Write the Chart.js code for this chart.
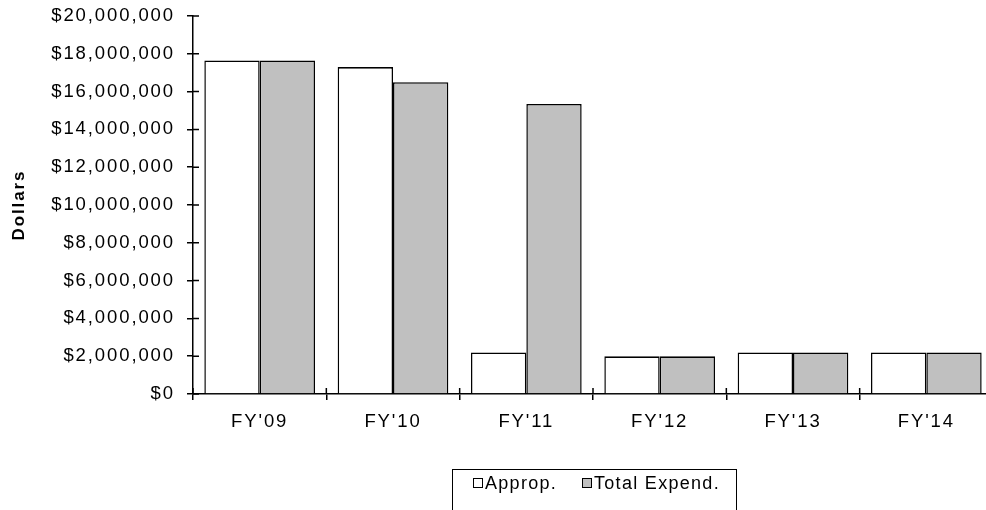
<!DOCTYPE html>
<html>
<head>
<meta charset="utf-8">
<script src="https://cdn.jsdelivr.net/npm/chart.js@4"></script>
<style>
  html, body { margin: 0; padding: 0; background: #fff; overflow: hidden; }
  #wrap { position: relative; width: 986px; height: 510px; overflow: hidden; }
  #fundChart { position: absolute; left: 0; top: 0; }
  #legend {
    position: absolute; left: 452px; top: 469px; width: 285px; height: 60px;
    border: 1px solid #000; box-sizing: border-box;
    font-family: "Liberation Sans", Arial, sans-serif; font-size: 18px;
    letter-spacing: 1.3px; color: #000;
  }
  #legend .item { position: absolute; top: 1px; white-space: nowrap; line-height: 24px; }
  #legend .sw {
    display: inline-block; width: 8px; height: 8px; border: 1px solid #000;
    margin-right: 2px; vertical-align: 1px;
  }
</style>
</head>
<body>
<div id="wrap">
  <canvas id="fundChart" width="993" height="510"></canvas>
  <div id="legend"></div>
</div>
<script>
(() => {
  const YEARS = ["FY'09", "FY'10", "FY'11", "FY'12", "FY'13", "FY'14"];
  const APPROP = [17650000, 17300000, 2200000, 2000000, 2200000, 2200000];
  const EXPEND = [17650000, 16500000, 15350000, 2000000, 2200000, 2200000];
  const SERIES_LABELS = ["Approp.", "Total Expend."];
  const COLORS = ["#FFFFFF", "#C0C0C0"];

  const FONT = "'Liberation Sans', Arial, sans-serif";

  /* ---------- PLUGINS ---------- */

  // Excel-ish wide text
  const spacing = {
    id: "spacing",
    beforeUpdate(c) { c.ctx.letterSpacing = "1.9px"; },
    beforeDraw(c) { c.ctx.letterSpacing = "1.9px"; }
  };

  // tick marks crossing the axes (inner half)
  const crossTicks = {
    id: "crossTicks",
    afterDraw(c) {
      const ctx = c.ctx;
      const x = c.scales.x, y = c.scales.y;
      ctx.save();
      ctx.strokeStyle = "#000";
      ctx.lineWidth = 1.5;
      ctx.beginPath();
      y.ticks.forEach((t, i) => {
        const py = y.getPixelForTick(i);
        ctx.moveTo(y.right, py);
        ctx.lineTo(y.right + 6, py);
      });
      for (let i = 0; i <= YEARS.length; i++) {
        const px = x.getPixelForValue(i - 0.5);
        ctx.moveTo(px, x.top);
        ctx.lineTo(px, x.top - 6);
      }
      ctx.stroke();
      ctx.restore();
    }
  };

  /* ---------- CHART ---------- */

  const ctx = document.getElementById("fundChart");

  new Chart(ctx, {
    type: "bar",
    data: {
      labels: YEARS,
      datasets: [
        { label: SERIES_LABELS[0], data: APPROP, backgroundColor: COLORS[0] },
        { label: SERIES_LABELS[1], data: EXPEND, backgroundColor: COLORS[1] }
      ]
    },
    options: {
      responsive: false,
      animation: false,
      layout: { padding: { top: 16, right: 0, bottom: 0, left: 0 } },
      datasets: {
        bar: {
          borderColor: "#000",
          borderWidth: { top: 1.7, left: 1.5, right: 1.5, bottom: 0 },
          categoryPercentage: 0.83,
          barPercentage: 1.0
        }
      },
      plugins: {
        legend: { display: false },
        tooltip: { enabled: false }
      },
      scales: {
        x: {
          grid: {
            display: true,
            drawOnChartArea: false,
            offset: true,
            tickLength: 6,
            color: "#000",
            lineWidth: 1.5
          },
          border: { color: "#000", width: 1.5 },
          ticks: {
            color: "#000",
            padding: 11,
            maxRotation: 0,
            font: { family: FONT, size: 18.5 }
          },
          afterFit(scale) { scale.height = 510 - 394; }
        },
        y: {
          min: 0,
          max: 20000000,
          grid: {
            display: true,
            drawOnChartArea: false,
            tickLength: 6,
            color: "#000",
            lineWidth: 1.5
          },
          border: { color: "#000", width: 1.5 },
          ticks: {
            stepSize: 2000000,
            color: "#000",
            padding: 12,
            font: { family: FONT, size: 18.5 },
            callback: v => "$" + v.toLocaleString("en-US")
          },
          title: {
            display: true,
            text: "Dollars",
            color: "#000",
            padding: { top: 9, bottom: 0 },
            font: { family: FONT, size: 17, weight: "bold" }
          },
          afterFit(scale) {
            scale.width = 193;
            scale.paddingTop = 0;
            scale.paddingBottom = 0;
          }
        }
      }
    },
    plugins: [spacing, crossTicks]
  });

  /* ---------- LEGEND ---------- */

  const legend = document.getElementById("legend");
  const lefts = [20, 129];
  SERIES_LABELS.forEach((label, i) => {
    const item = document.createElement("span");
    item.className = "item";
    item.style.left = lefts[i] + "px";
    const sw = document.createElement("span");
    sw.className = "sw";
    sw.style.background = COLORS[i];
    item.appendChild(sw);
    item.appendChild(document.createTextNode(label));
    legend.appendChild(item);
  });
})();
</script>
</body>
</html>
